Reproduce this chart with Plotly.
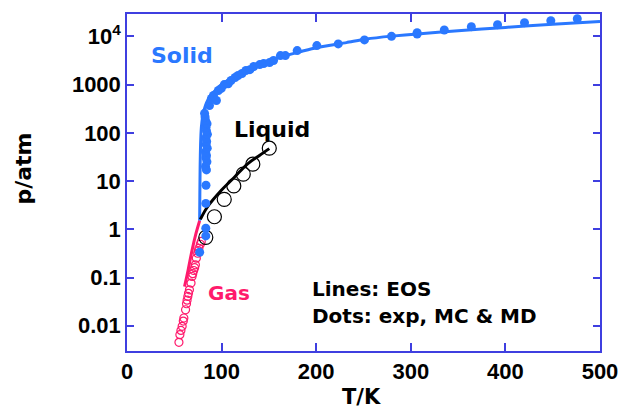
import plotly.graph_objects as go

# Phase-diagram of argon: equation-of-state curves and data points
# ---- EOS lines -------------------------------------------------------
solid_T = [76.8, 77.0, 77.3, 77.8, 78.6, 80.0, 81.5, 84.0, 88.0, 95.0, 107.0, 120.0,
           131.0, 150.0, 166.0, 185.0, 200.0, 232.0, 253.0, 280.0, 307.0, 350.0,
           400.0, 450.0, 500.0]
solid_p = [1.5, 5.0, 20.0, 60.0, 130.0, 220.0, 300.0, 420.0, 580.0, 820.0, 1250.0, 1800.0,
           2300.0, 3150.0, 3900.0, 4900.0, 5800.0, 7400.0, 8800.0, 10100.0, 11200.0, 13000.0,
           15300.0, 17800.0, 20300.0]

liquid_T = [77.5, 85.0, 100.0, 113.0, 127.8, 140.0, 150.4]
liquid_p = [1.6, 2.9, 6.5, 11.7, 23.0, 34.0, 47.0]

gas_T = [60.8, 64.5, 68.8, 72.8, 76.8]
gas_p = [0.065, 0.14, 0.37, 0.8, 1.5]

# ---- data points (exp, MC & MD) -------------------------------------
solid_pts_T = [76.8, 83.3, 83.3, 83.3, 83.5, 84.0, 83.0, 84.5, 83.5, 84.0, 83.0, 84.8,
               83.6, 84.2, 83.2, 85.0, 84.0, 83.5, 84.6, 83.0, 82.5, 82.0,
               87.2, 89.3, 91.4, 94.5, 96.6, 99.7, 102.8, 107.0, 110.0, 114.3, 117.4,
               121.6, 125.7, 129.9, 134.0, 140.3, 144.5, 150.7, 154.9, 162.2, 167.4,
               179.9, 200.7, 223.3, 251.0, 279.6, 306.7, 306.7, 335.4, 364.0, 391.7,
               420.2, 448.0, 476.0]
solid_pts_p = [0.335, 0.73, 1.05, 3.44, 8.2, 17.0, 20.0, 25.0, 30.0, 34.0, 40.0, 48.0,
               57.0, 66.0, 78.0, 93.0, 110.0, 130.0, 155.0, 181.0, 215.0, 253.0,
               368.0, 516.0, 595.0, 468.0, 755.0, 832.0, 1000.0, 1040.0, 1217.0, 1403.0, 1540.0,
               1700.0, 1960.0, 2040.0, 2366.0, 2600.0, 2730.0, 2860.0, 3160.0, 3990.0, 3990.0,
               5070.0, 6430.0, 6960.0, 8430.0, 10000.0, 11200.0, 11900.0, 13560.0, 15850.0, 17450.0,
               19190.0, 21100.0, 23200.0]

liquid_pts_T = [83.3, 92.4, 102.8, 112.9, 122.9, 133.0, 150.4]
liquid_pts_p = [0.68, 1.82, 4.17, 7.94, 13.9, 22.4, 48.0]

gas_pts_T = [54.9, 55.9, 57.0, 58.3, 59.5, 60.1, 61.9, 62.9, 63.5, 64.3, 65.0, 66.0,
             67.7, 68.75, 69.5, 70.5, 71.5, 72.3, 73.3, 74.7, 75.5, 76.0, 77.5, 78.5]
gas_pts_p = [0.00454, 0.00655, 0.0080, 0.00972, 0.0125, 0.0145, 0.0215, 0.0286, 0.034, 0.0405,
             0.047, 0.0557, 0.0766, 0.105, 0.12, 0.140, 0.16, 0.183, 0.252, 0.319, 0.36,
             0.405, 0.49, 0.56]

y_tickvals = [0.01, 0.1, 1, 10, 100, 1000, 10000]
y_ticktext = ["0.01", "0.1", "1", "10", "100", "1000", "10<sup>4</sup>"]
x_tickvals = [0, 100, 200, 300, 400, 500]

BLUE = "#2a78ff"
PINK = "#ff1a6c"
AXIS = "#3f3fe0"
TICK_FONT = dict(family="Liberation Sans, Arial, sans-serif", size=22, color="black", weight="bold")
LABEL_FONT = "DejaVu Sans, sans-serif"

fig = go.Figure()

fig.add_trace(go.Scatter(x=solid_T, y=solid_p, mode="lines",
                         line=dict(color=BLUE, width=3, shape="spline", smoothing=0.6)))
fig.add_trace(go.Scatter(x=gas_T, y=gas_p, mode="lines",
                         line=dict(color=PINK, width=3, shape="spline")))
fig.add_trace(go.Scatter(x=liquid_T, y=liquid_p, mode="lines",
                         line=dict(color="black", width=3, shape="spline")))

fig.add_trace(go.Scatter(x=gas_pts_T, y=gas_pts_p, mode="markers",
                         marker=dict(symbol="circle-open", size=8, color=PINK,
                                     line=dict(width=1.2, color=PINK))))
fig.add_trace(go.Scatter(x=liquid_pts_T, y=liquid_pts_p, mode="markers",
                         marker=dict(symbol="circle-open", size=14, color="black",
                                     line=dict(width=1.2, color="black"))))
fig.add_trace(go.Scatter(x=solid_pts_T, y=solid_pts_p, mode="markers",
                         marker=dict(symbol="circle", size=9, color=BLUE)))

fig.update_xaxes(range=[0, 500], tickvals=x_tickvals, ticks="inside", ticklen=8,
                 tickwidth=1.5, tickcolor=AXIS, showline=True, linecolor=AXIS, linewidth=1.5,
                 mirror="ticks", showgrid=False, zeroline=False, tickfont=TICK_FONT)
fig.update_yaxes(type="log", range=[-2.523, 4.463], tickvals=y_tickvals, ticktext=y_ticktext,
                 ticks="inside", ticklen=7, tickwidth=1.5, tickcolor=AXIS, showline=True,
                 linecolor=AXIS, linewidth=1.5, mirror="ticks", showgrid=False,
                 zeroline=False, tickfont=TICK_FONT)

def label(text, x, y, color="black", size=22, xanchor="left", yanchor="middle", angle=0):
    fig.add_annotation(text=text, x=x, y=y, xref="paper", yref="paper", showarrow=False,
                       xanchor=xanchor, yanchor=yanchor, textangle=angle, borderpad=0,
                       font=dict(family=LABEL_FONT, size=size, color=color, weight="bold"))

label("Solid", 0.0477, 0.876, color=BLUE)
label("Liquid", 0.224, 0.657)
label("Gas", 0.170, 0.172, color=PINK, size=20)
# two-line legend note, stacked tightly about a shared baseline
label("Lines: EOS", 0.390, 0.145, size=20, yanchor="bottom")
label("Dots: exp, MC &amp; MD", 0.390, 0.142, size=20, yanchor="top")
label("T/K", 0.496, -0.136, xanchor="center", size=21)
label("p/atm", -0.218, 0.541, xanchor="center", size=22, angle=-90)

fig.update_layout(width=630, height=409, margin=dict(l=127, r=21, t=13, b=58),
                  paper_bgcolor="white", plot_bgcolor="white", showlegend=False)

fig.write_html("out.html")
